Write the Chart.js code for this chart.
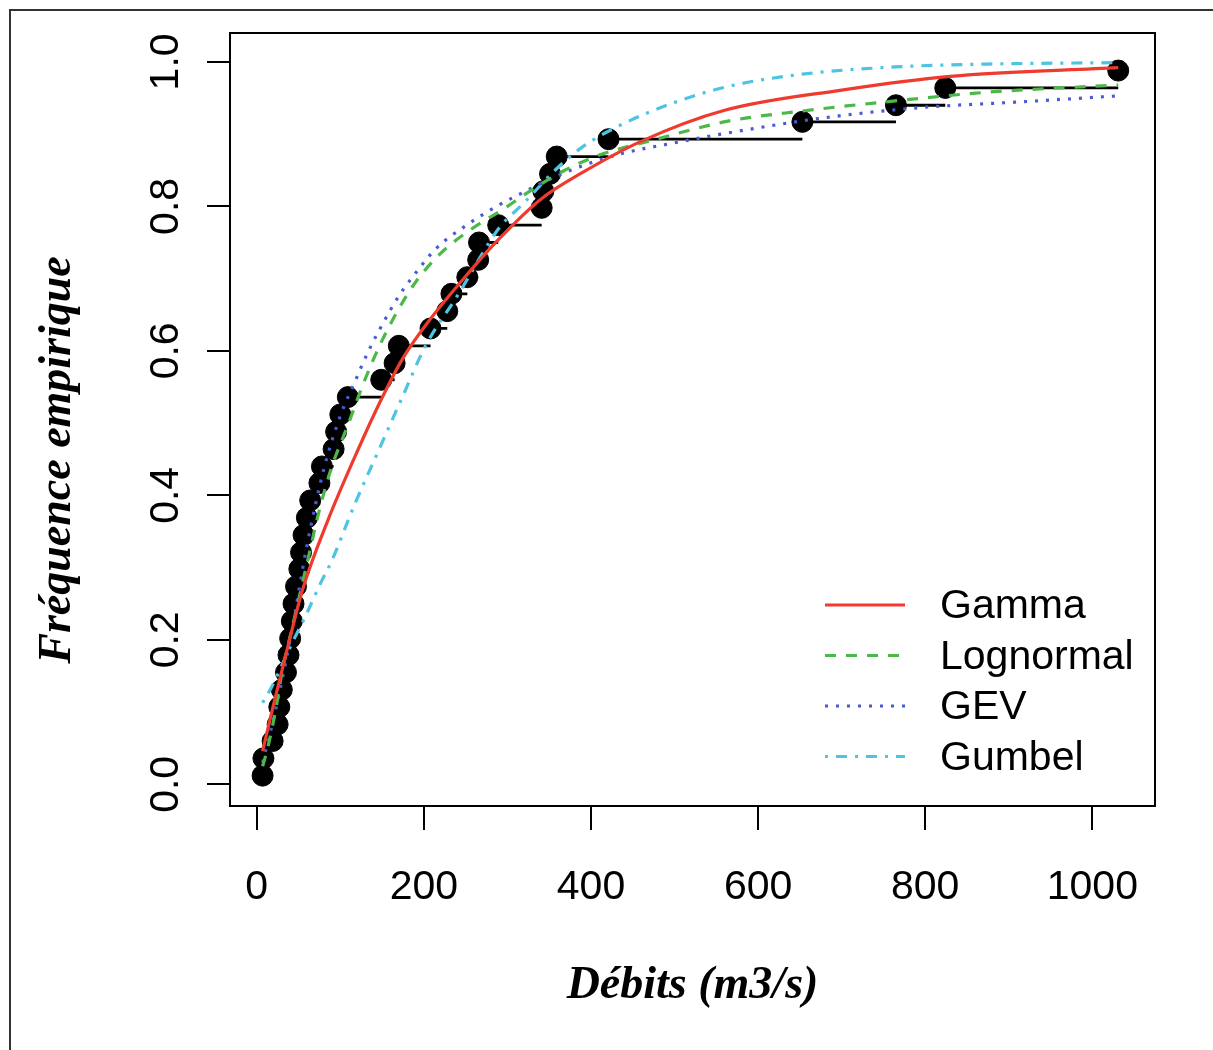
<!DOCTYPE html>
<html>
<head>
<meta charset="utf-8">
<script src="https://cdn.jsdelivr.net/npm/chart.js@4.4.0/dist/chart.umd.min.js"></script>
<style>
body{margin:0;background:#fff;}
#wrap{position:relative;width:1213px;height:1050px;}
</style>
</head>
<body>
<div id="wrap"><canvas id="cdfchart"></canvas></div>
<script>
// observed discharges (sorted) and empirical frequencies
const debits=[7,8,19,25,27,30,35,38,40,42,44,47,51,53,56,60,64,75,78,92,95,100,109,149,165,170,208,228,233,252,265,266,289,341,343,351,359,421,653,765,824,1031];
const frequences=[0.012,0.036,0.060,0.083,0.107,0.131,0.155,0.179,0.202,0.226,0.250,0.274,0.298,0.321,0.345,0.369,0.393,0.417,0.440,0.464,0.488,0.512,0.536,0.560,0.583,0.607,0.631,0.655,0.679,0.702,0.726,0.750,0.774,0.798,0.821,0.845,0.869,0.893,0.917,0.940,0.964,0.988];

// fitted cdf curves
const gammaX=[7,20,35,55,85,120,150,175,205,255,290,340,390,460,560,700,830,1031];
const gammaF=[0.046,0.11,0.18,0.27,0.365,0.46,0.535,0.59,0.64,0.71,0.755,0.81,0.847,0.89,0.933,0.961,0.98,0.992];
const lognX=[7,13,23,31,40,60,75,90,110,127,147,167,190,220,255,300,320,367,410,475,564,653,764,874,1031];
const lognF=[0.025,0.05,0.105,0.16,0.205,0.305,0.38,0.44,0.50,0.553,0.607,0.652,0.695,0.735,0.767,0.80,0.816,0.849,0.871,0.892,0.918,0.932,0.946,0.958,0.968];
const gevX=[7,20,40,60,80,100,117,133,151,170,185,215,255,287,320,367,430,500,586,675,786,919,1031];
const gevF=[0.03,0.09,0.2,0.33,0.435,0.51,0.556,0.598,0.638,0.676,0.70,0.742,0.777,0.80,0.82,0.846,0.871,0.888,0.906,0.922,0.936,0.945,0.953];
const gumbelX=[7,18,40,60,75,90,117,145,175,202,240,290,320,357,387,431,498,564,653,764,874,1031];
const gumbelF=[0.113,0.135,0.19,0.237,0.275,0.31,0.387,0.46,0.538,0.607,0.676,0.77,0.805,0.85,0.88,0.91,0.943,0.966,0.983,0.993,0.997,0.999];

const xTicks=[0,200,400,600,800,1000];
const yTicks=[0,0.2,0.4,0.6,0.8,1.0];

const xTitle='Débits (m3/s)';
const yTitle='Fréquence empirique';

function pts(xs,ys){
    return xs.map((x,i)=>({x:x,y:ys[i]}));
}

// horizontal steps of the empirical cdf
const steps=[];
for(let i=0;i<debits.length-1;i++){
    steps.push({x:debits[i],y:frequences[i]});
    steps.push({x:debits[i+1],y:frequences[i]});
    steps.push({x:debits[i+1],y:null});
}

function curve(label,xs,ys,color,dash){
    return {
        label:label,
        data:pts(xs,ys),
        showLine:true,
        borderColor:color,
        backgroundColor:color,
        borderWidth:3.2,
        borderDash:dash,
        pointRadius:0,
        cubicInterpolationMode:'monotone',
        fill:false,
        order:1,
        inLegend:true
    };
}

const tickFont={family:'"Liberation Sans", Arial, sans-serif',size:41};

const decor={
    id:'decor',
    afterDraw(chart){
        const ctx=chart.ctx;
        const a=chart.chartArea;
        ctx.save();
        ctx.strokeStyle='#000';
        ctx.lineWidth=2;
        ctx.strokeRect(a.left,a.top,a.right-a.left,a.bottom-a.top);

        // outer frame
        ctx.strokeStyle='#333';
        ctx.beginPath();
        ctx.moveTo(10,1050);
        ctx.lineTo(10,10);
        ctx.lineTo(1213,10);
        ctx.stroke();

        // y axis title
        ctx.save();
        ctx.translate(58,460);
        ctx.rotate(-Math.PI/2);
        ctx.font='italic bold 46px "Liberation Serif", serif';
        ctx.fillStyle='#000';
        ctx.textAlign='center';
        ctx.textBaseline='middle';
        ctx.fillText(yTitle,0,0);
        ctx.restore();

        // legend
        const items=chart.data.datasets.filter(d=>d.inLegend);
        ctx.font='41px "Liberation Sans", Arial, sans-serif';
        ctx.textAlign='left';
        ctx.textBaseline='middle';
        items.forEach((d,i)=>{
            const y=605+i*50.5;
            ctx.strokeStyle=d.borderColor;
            ctx.lineWidth=d.borderWidth;
            ctx.setLineDash(d.borderDash||[]);
            ctx.beginPath();
            ctx.moveTo(825,y);
            ctx.lineTo(905,y);
            ctx.stroke();
            ctx.setLineDash([]);
            ctx.fillStyle='#000';
            ctx.fillText(d.label,940,y+2);
        });
        ctx.restore();
    }
};

const ctx=document.getElementById('cdfchart').getContext('2d');
const cdfchart=new Chart(ctx,{
    type:'scatter',
    data:{
        datasets:[
            curve('Gamma',gammaX,gammaF,'#EE3B2E',[]),
            curve('Lognormal',lognX,lognF,'#4CB848',[11,10]),
            curve('GEV',gevX,gevF,'#4A5BD4',[3,8]),
            curve('Gumbel',gumbelX,gumbelF,'#4CC4E2',[3,8,11,8]),
            {
                label:'points',
                data:pts(debits,frequences),
                backgroundColor:'#000',
                borderColor:'#000',
                pointRadius:10.5,
                pointHoverRadius:10.5,
                order:2
            },
            {
                label:'steps',
                data:steps,
                showLine:true,
                spanGaps:false,
                borderColor:'#000',
                borderWidth:2.8,
                pointRadius:0,
                order:3
            }
        ]
    },
    options:{
        responsive:true,
        maintainAspectRatio:false,
        animation:false,
        events:[],
        layout:{padding:{top:33,right:58,left:0,bottom:0}},
        plugins:{legend:{display:false},tooltip:{enabled:false}},
        scales:{
            x:{
                type:'linear',
                min:-32,
                max:1075,
                afterBuildTicks:s=>{s.ticks=xTicks.map(v=>({value:v}));},
                afterFit:s=>{s.height=244;s.paddingLeft=0;s.paddingRight=0;},
                ticks:{font:tickFont,color:'#000',padding:33,maxRotation:0,autoSkip:false,callback:v=>String(v)},
                grid:{drawOnChartArea:false,drawTicks:true,tickLength:24,color:'#000',lineWidth:2},
                border:{display:true,color:'#000',width:2},
                title:{
                    display:true,
                    text:xTitle,
                    color:'#000',
                    font:{family:'"Liberation Serif", serif',size:46,style:'italic',weight:'bold'},
                    padding:{top:0,bottom:36}
                }
            },
            y:{
                type:'linear',
                min:-0.03,
                max:1.04,
                afterBuildTicks:s=>{s.ticks=yTicks.map(v=>({value:v}));},
                afterFit:s=>{s.width=230;s.paddingTop=0;s.paddingBottom=0;},
                ticks:{
                    font:tickFont,
                    color:'#000',
                    padding:12,
                    minRotation:90,
                    maxRotation:90,
                    crossAlign:'center',
                    autoSkip:false,
                    callback:v=>v.toFixed(1)
                },
                grid:{drawOnChartArea:false,drawTicks:true,tickLength:23,color:'#000',lineWidth:2},
                border:{display:true,color:'#000',width:2}
            }
        }
    },
    plugins:[decor]
});
</script>
</body>
</html>
